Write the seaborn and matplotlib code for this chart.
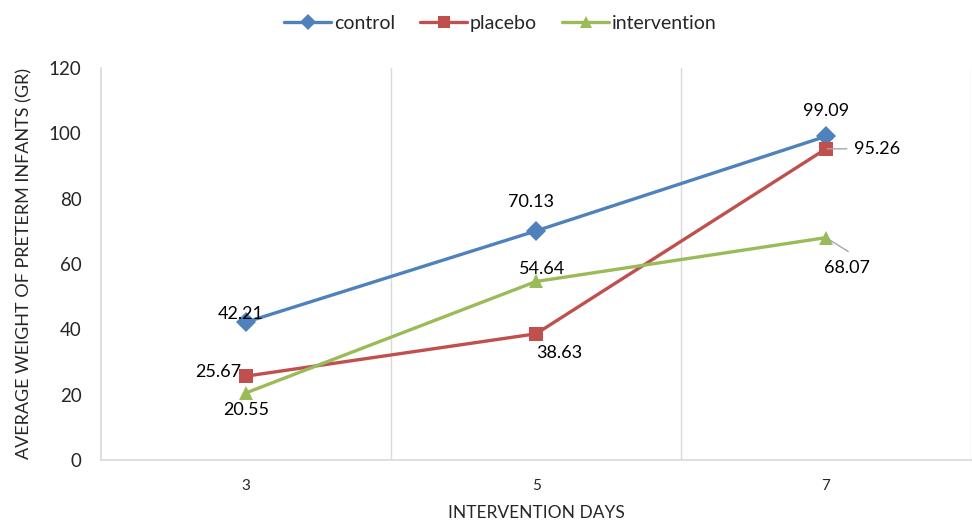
import pandas as pd
import numpy as np
import matplotlib.pyplot as plt
import seaborn as sns

# values
days = ['3', '5', '7']
control = [42.21, 70.13, 99.09]
placebo = [25.67, 38.63, 95.26]
intervention = [20.55, 54.64, 68.07]
groups = ['control', 'placebo', 'intervention']

df = pd.DataFrame({
    'day': days * 3,
    'weight': control + placebo + intervention,
    'group': [g for g in groups for _ in days],
})

colors = {'control': '#4F81BD', 'placebo': '#C0504D', 'intervention': '#9BBB59'}
markers = {'control': 'D', 'placebo': 's', 'intervention': '^'}

sns.set_theme(style='white')
plt.rcParams['font.family'] = ['Lato', 'DejaVu Sans']

fig = plt.figure(figsize=(9.72, 5.23), dpi=100)
ax = fig.add_axes([0.104, 0.1205, 0.895, 0.7495])

sns.lineplot(data=df, x='day', y='weight', hue='group', style='group',
             palette=colors, markers=markers, dashes=False, sort=False,
             linewidth=2.4, markersize=10.5, markeredgewidth=0, ax=ax)

ax.set_xlim(-0.5, 2.5)
ax.set_ylim(0, 120)
ax.set_yticks(np.arange(0, 121, 20))
ax.set_xticks(range(len(days)))
ax.set_xticklabels(days)
ax.tick_params(axis='y', labelsize=13.5, length=0, pad=14)
ax.tick_params(axis='x', labelsize=11, length=0, pad=14)

# vertical gridlines between categories
ax.set_xticks([0.5, 1.5, 2.5], minor=True)
ax.tick_params(axis='x', which='minor', length=0)
ax.grid(axis='x', which='minor', color='#D9D9D9', linewidth=1)
ax.grid(axis='y', visible=False)
ax.grid(axis='x', which='major', visible=False)

for side in ['top', 'right']:
    ax.spines[side].set_visible(False)
for side in ['left', 'bottom']:
    ax.spines[side].set_color('#D9D9D9')
    ax.spines[side].set_linewidth(1.2)

ax.set_xlabel('INTERVENTION DAYS', fontsize=12.5, labelpad=8)
ax.set_ylabel('AVERAGE WEIGHT OF PRETERM INFANTS (GR)', fontsize=13, labelpad=12)

# data labels (offsets in points)
label_offsets = {
    'control': [(-4, 6), (-4, 21), (0, 18)],
    'placebo': [(-20, 3), (17, -14), (37, 0)],
    'intervention': [(0, -12), (4, 9), (15, -22)],
}
series = {'control': control, 'placebo': placebo, 'intervention': intervention}
for g in groups:
    for i, v in enumerate(series[g]):
        dx, dy = label_offsets[g][i]
        ax.annotate(f'{v:.2f}', (i, v), xytext=(dx, dy), textcoords='offset points',
                    ha='center', va='center', fontsize=13, color='black')

# leader lines for the two labels pushed away from their points
ax.annotate('', (2, placebo[2]), xytext=(15, 0), textcoords='offset points',
            arrowprops=dict(arrowstyle='-', color='#A6A6A6', lw=1, shrinkA=0, shrinkB=1))
ax.annotate('', (2, intervention[2]), xytext=(16, -10), textcoords='offset points',
            arrowprops=dict(arrowstyle='-', color='#A6A6A6', lw=1, shrinkA=0, shrinkB=1))

handles, labels = ax.get_legend_handles_labels()
ax.legend(handles, labels, loc='center', bbox_to_anchor=(0.515, 0.956),
          bbox_transform=fig.transFigure, ncol=3, frameon=False, fontsize=14,
          handlelength=2.4, columnspacing=1.3, handletextpad=0.15, markerscale=0.8)

fig.savefig('out.png', dpi=100)
